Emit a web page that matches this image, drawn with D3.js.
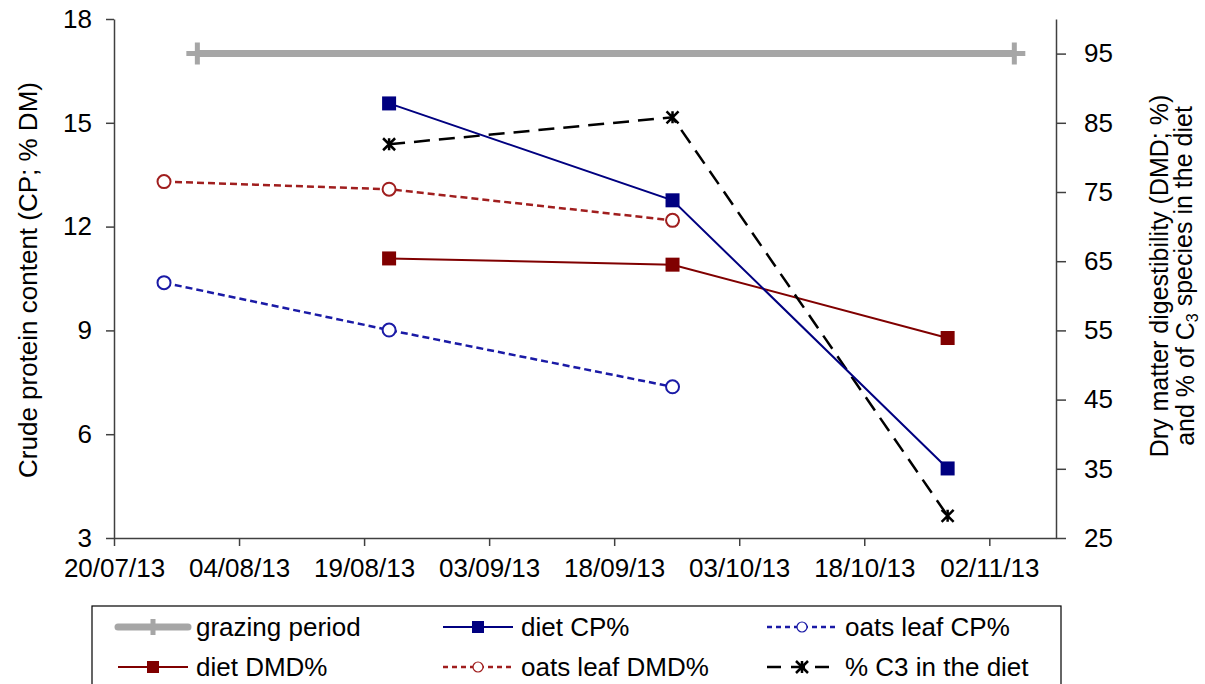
<!DOCTYPE html>
<html>
<head>
<meta charset="utf-8">
<script src="https://cdn.jsdelivr.net/npm/d3@7"></script>
<style>
  body { margin: 0; background: #fff; }
  text { font-family: "Liberation Sans", Arial, sans-serif; fill: #000; }
</style>
</head>
<body>
<svg id="chart"></svg>
<script>
const width = 1205;
const height = 684;

// data
const tickDates = ["20/07/13", "04/08/13", "19/08/13", "03/09/13", "18/09/13", "03/10/13", "18/10/13", "02/11/13"];
const xEnd = "10/11/13";
const leftTicks = [3, 6, 9, 12, 15, 18];
const rightTicks = [25, 35, 45, 55, 65, 75, 85, 95];

const grazingDates = ["30/07/13", "05/11/13"];
const grazingLevel = [95, 95];

const dietDates = ["22/08/13", "25/09/13", "28/10/13"];
const oatsDates = ["26/07/13", "22/08/13", "25/09/13"];

const dietCP = [15.56, 12.76, 5.01];
const oatsLeafCP = [10.38, 9.01, 7.37];
const dietDMD = [65.4, 64.5, 53.9];
const oatsLeafDMD = [76.5, 75.4, 70.9];
const c3InDiet = [81.9, 85.8, 28.2];

const parse = d3.timeParse("%d/%m/%y");
const fontSize = 26;

const svg = d3.select("#chart")
  .attr("width", width)
  .attr("height", height);

const x = d3.scaleTime()
  .domain([parse(tickDates[0]), parse(xEnd)])
  .range([114, 1056]);

const yLeft = d3.scaleLinear().domain([3, 18]).range([538, 19]);
const yRight = d3.scaleLinear().domain([25, 100]).range([538, 19]);

const axisColor = "#404040";

// axes
const gx = svg.append("g")
  .attr("transform", "translate(0,538)")
  .call(d3.axisBottom(x)
    .tickValues(tickDates.map(parse))
    .tickFormat(d3.timeFormat("%d/%m/%y"))
    .tickSize(8)
    .tickSizeOuter(0)
    .tickPadding(9));

const gl = svg.append("g")
  .attr("transform", "translate(114,0)")
  .call(d3.axisLeft(yLeft).tickValues(leftTicks).tickSize(8).tickSizeOuter(0).tickPadding(14));

const gr = svg.append("g")
  .attr("transform", "translate(1056,0)")
  .call(d3.axisRight(yRight).tickValues(rightTicks).tickSize(10).tickSizeOuter(0).tickPadding(18));

[gx, gl, gr].forEach(g => {
  g.select(".domain").attr("stroke", axisColor).attr("stroke-width", 1.5);
  g.selectAll(".tick line").attr("stroke", axisColor).attr("stroke-width", 1.5);
  g.selectAll(".tick text")
    .attr("font-size", fontSize)
    .attr("fill", "#000")
    .style("font-family", "Liberation Sans, Arial, sans-serif");
});
gx.selectAll(".tick text").attr("dy", "0.85em");

// axis titles
svg.append("text")
  .attr("transform", "translate(28,280) rotate(-90)")
  .attr("text-anchor", "middle")
  .attr("dominant-baseline", "central")
  .attr("font-size", fontSize)
  .text("Crude protein content (CP; % DM)");

const rt = svg.append("text")
  .attr("transform", "translate(1159,276) rotate(-90)")
  .attr("text-anchor", "middle")
  .attr("font-size", 25);
rt.append("tspan").attr("x", 0).attr("dy", "0.35em").text("Dry matter digestibility (DMD; %)");
const l2 = rt.append("tspan").attr("x", 0).attr("dy", "1.05em").text("and % of C");
l2.append("tspan").attr("font-size", 16).attr("dy", "0.25em").text("3");
l2.append("tspan").attr("dy", "-0.25em").text(" species in the diet");

// series setup
function zip(dates, vals) {
  return dates.map((d, i) => ({ date: parse(d), v: vals[i] }));
}

const series = [
  { name: "grazing period", data: zip(grazingDates, grazingLevel), y: yRight, color: "#a6a6a6", width: 7, dash: null, marker: "plus" },
  { name: "oats leaf CP%", data: zip(oatsDates, oatsLeafCP), y: yLeft, color: "#1a1aa6", width: 2.5, dash: "7,4", marker: "circle" },
  { name: "oats leaf DMD%", data: zip(oatsDates, oatsLeafDMD), y: yRight, color: "#a01e1e", width: 2.5, dash: "7,4", marker: "circle" },
  { name: "diet DMD%", data: zip(dietDates, dietDMD), y: yRight, color: "#800000", width: 2, dash: null, marker: "square" },
  { name: "% C3 in the diet", data: zip(dietDates, c3InDiet), y: yRight, color: "#000", width: 2.5, dash: "16,9", marker: "star" },
  { name: "diet CP%", data: zip(dietDates, dietCP), y: yLeft, color: "#000080", width: 2, dash: null, marker: "square" }
];

function drawMarker(g, type, color, cx, cy, s) {
  if (type === "square") {
    g.append("rect").attr("x", cx - s).attr("y", cy - s)
      .attr("width", 2 * s).attr("height", 2 * s).attr("fill", color);
  } else if (type === "circle") {
    g.append("circle").attr("cx", cx).attr("cy", cy).attr("r", s)
      .attr("fill", "#fff").attr("stroke", color).attr("stroke-width", 2);
  } else if (type === "star") {
    g.append("path")
      .attr("d", `M${cx - s},${cy - s}L${cx + s},${cy + s}M${cx - s},${cy + s}L${cx + s},${cy - s}M${cx},${cy - s}L${cx},${cy + s}`)
      .attr("stroke", color).attr("stroke-width", 2.5).attr("fill", "none");
  } else if (type === "plus") {
    g.append("path")
      .attr("d", `M${cx},${cy - s}L${cx},${cy + s}M${cx - s},${cy}L${cx + s},${cy}`)
      .attr("stroke", color).attr("stroke-width", 5).attr("fill", "none");
  }
}

const markerSize = { square: 7, circle: 6.5, star: 6, plus: 11 };

series.forEach(s => {
  const g = svg.append("g");
  const line = d3.line().x(d => x(d.date)).y(d => s.y(d.v));
  g.append("path")
    .datum(s.data)
    .attr("d", line)
    .attr("fill", "none")
    .attr("stroke", s.color)
    .attr("stroke-width", s.width)
    .attr("stroke-dasharray", s.dash);
  s.data.forEach(d => drawMarker(g, s.marker, s.color, x(d.date), s.y(d.v), markerSize[s.marker]));
});

// legend
svg.append("rect")
  .attr("x", 92).attr("y", 606)
  .attr("width", 969).attr("height", 100)
  .attr("fill", "none").attr("stroke", "#000").attr("stroke-width", 1.2);

const legendOrder = ["grazing period", "diet CP%", "oats leaf CP%", "diet DMD%", "oats leaf DMD%", "% C3 in the diet"];
const colX = [118, 443, 767];
const rowY = [627, 667];
const legendSize = { square: 6, circle: 5, star: 6, plus: 8 };

legendOrder.forEach((name, i) => {
  const s = series.find(d => d.name === name);
  const lx = colX[i % 3];
  const ly = rowY[Math.floor(i / 3)];
  const g = svg.append("g");
  g.append("line")
    .attr("x1", lx).attr("x2", lx + 70)
    .attr("y1", ly).attr("y2", ly)
    .attr("stroke", s.color)
    .attr("stroke-width", s.marker === "plus" ? 7 : s.width)
    .attr("stroke-linecap", s.marker === "plus" ? "round" : "butt")
    .attr("stroke-dasharray", s.marker === "star" ? "14,10" : (s.dash ? "5,4" : null));
  if (s.marker === "circle") {
    g.append("circle").attr("cx", lx + 35).attr("cy", ly).attr("r", legendSize.circle)
      .attr("fill", "#fff").attr("stroke", s.color).attr("stroke-width", 1.2);
  } else {
    drawMarker(g, s.marker, s.color, lx + 35, ly, legendSize[s.marker]);
  }
  g.append("text")
    .attr("x", lx + 78).attr("y", ly)
    .attr("dominant-baseline", "central")
    .attr("font-size", fontSize)
    .text(name);
});
</script>
</body>
</html>
